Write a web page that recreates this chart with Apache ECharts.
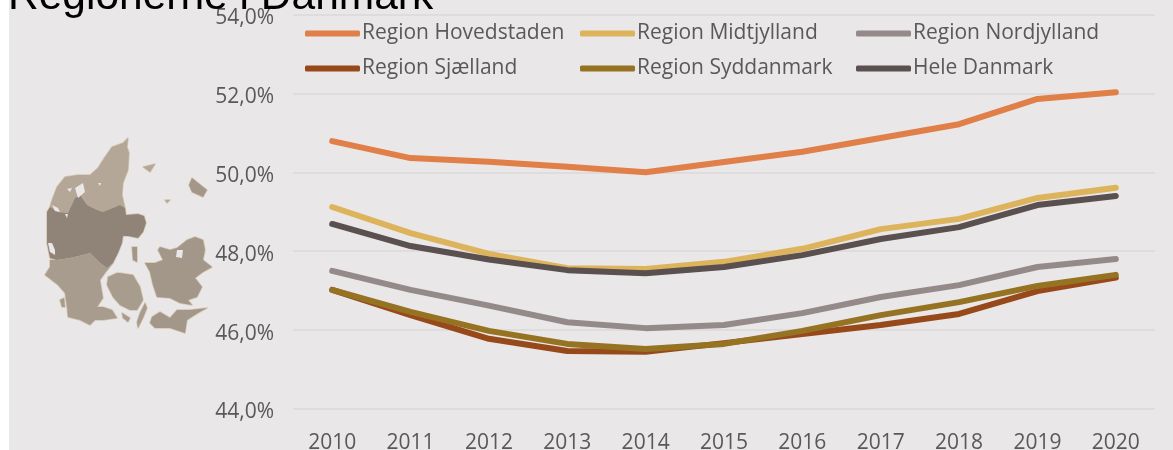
<!DOCTYPE html>
<html>
<head>
<meta charset="utf-8">
<style>
  html, body { margin: 0; padding: 0; background: #fff; }
  #target { width: 1173px; height: 450px; }
</style>
<script src="https://cdn.jsdelivr.net/npm/echarts@6/dist/echarts.min.js"></script>
</head>
<body>
<div id="target"></div>
<script>
const years = ['2010','2011','2012','2013','2014','2015','2016','2017','2018','2019','2020']
const hovedstaden = [50.79,50.36,50.27,50.14,50.0,50.26,50.52,50.87,51.22,51.86,52.03]
const midtjylland = [49.12,48.46,47.93,47.57,47.55,47.73,48.06,48.56,48.82,49.35,49.61]
const nordjylland = [47.5,47.02,46.62,46.2,46.05,46.13,46.43,46.84,47.14,47.6,47.8]
const sjaelland = [47.02,46.38,45.78,45.47,45.45,45.67,45.9,46.13,46.41,46.99,47.33]
const syddanmark = [47.02,46.46,45.98,45.65,45.52,45.65,45.98,46.38,46.71,47.12,47.4]
const heleDanmark = [48.69,48.13,47.79,47.52,47.44,47.6,47.9,48.31,48.61,49.17,49.4]

const textColor = '#595959'
const bgColor = '#E9E7E8'
const fontFamily = '"Open Sans", sans-serif'

//kort over Danmark (pynt, ikke data)
const landShapes = [
  {fill: '#B5A797', pts: [[128,138],[123,143],[112,147],[105,157],[98,168],[90,175],[78,175],[65,177],[57,187],[52,200],[50,207],[58,212],[68,213],[75,198],[80,195],[87,205],[97,210],[103,212],[120,205],[125,208],[122,195],[123,183],[128,170],[129,153],[127,147]]},
  {fill: '#8F8477', pts: [[50,207],[58,212],[68,213],[75,198],[80,195],[87,205],[97,210],[103,212],[120,205],[125,208],[126,215],[138,214],[144,216],[146,223],[143,232],[138,238],[128,236],[123,236],[122,243],[118,253],[113,263],[107,268],[100,263],[90,253],[83,255],[70,258],[57,260],[50,258],[47,243],[47,230],[47,212]]},
  {fill: '#A89C8E', pts: [[50,260],[57,260],[70,258],[83,255],[90,253],[100,263],[107,268],[113,263],[105,273],[100,280],[102,292],[103,298],[97,307],[103,307],[112,310],[117,318],[103,320],[95,320],[90,325],[80,320],[68,317],[67,307],[65,293],[58,285],[45,275],[50,267]]},
  {fill: '#A89C8E', pts: [[60,300],[64,298],[65,307],[62,307]]},
  {fill: '#A89C8E', pts: [[108,277],[117,273],[120,273],[133,275],[140,287],[143,300],[137,310],[130,310],[120,305],[113,297],[107,285]]},
  {fill: '#A89C8E', pts: [[145,303],[147,308],[143,318],[138,328],[137,322],[140,313]]},
  {fill: '#A89C8E', pts: [[122,313],[130,318],[128,322],[123,318]]},
  {fill: '#A3978A', pts: [[145,263],[155,263],[163,260],[158,250],[160,247],[170,250],[177,248],[187,240],[195,237],[203,240],[205,250],[203,260],[212,267],[203,272],[195,278],[202,287],[197,297],[188,300],[192,305],[180,303],[170,298],[157,297],[153,285],[150,272]]},
  {fill: '#A3978A', pts: [[152,317],[160,312],[170,318],[177,310],[190,310],[207,308],[198,313],[187,320],[185,333],[170,328],[155,328],[150,323]]},
  {fill: '#A3978A', pts: [[132,247],[137,247],[137,262],[133,260]]},
  {fill: '#A3978A', pts: [[192,178],[207,190],[203,197],[192,192],[189,185]]},
  {fill: '#B5A797', pts: [[143,167],[155,164],[150,172]]},
  {fill: '#B5A797', pts: [[165,200],[170,200],[167,203]]}
]
const waterShapes = [
  [[48,243],[52,243],[55,250],[55,255],[50,252]],
  [[52,205],[58,208],[60,212],[55,211]],
  [[75,188],[83,183],[85,192],[78,198]],
  [[67,189],[72,188],[70,192]],
  [[98,183],[101,183],[100,186]],
  [[65,214],[68,214],[67,218]],
  [[177,250],[183,250],[182,258],[176,257]]
]
const mapParts = [
  ...landShapes.map(s => ({type: 'polygon', shape: {points: s.pts}, style: {fill: '#D5C6B2', stroke: '#D5C6B2', lineWidth: 1.5, lineJoin: 'round'}})),
  ...landShapes.map(s => ({type: 'polygon', shape: {points: s.pts}, style: {fill: s.fill}})),
  ...waterShapes.map(pts => ({type: 'polygon', shape: {points: pts}, style: {fill: bgColor}}))
]

const legendBase = {
  orient: 'vertical',
  top: 23,
  icon: 'roundRect',
  itemWidth: 55,
  itemHeight: 6,
  itemGap: 14,
  padding: 0,
  textStyle: {color: textColor, fontFamily, fontSize: 21, padding: [0, 0, 0, -3], lineHeight: 21}
}

const line = (name, data, color) => ({
  name,
  type: 'line',
  data,
  color,
  symbol: 'none',
  lineStyle: {width: 6, color, cap: 'round', join: 'round'},
  itemStyle: {color}
})

const mChart = echarts.init(document.getElementById('target'), null, {renderer: 'canvas'})
mChart.setOption({
  animation: false,
  backgroundColor: '#fff',
  graphic: [
    {type: 'rect', z: -10, shape: {x: 9, y: 0, width: 1164, height: 450}, style: {fill: bgColor}},
    {type: 'group', children: mapParts},
    {type: 'text', z: 20, x: 8, y: -24, style: {text: 'Regionerne i Danmark', fill: '#000', font: '42.5px "Liberation Sans", Arial, sans-serif'}}
  ],
  grid: {top: 14.5, bottom: 41, left: 293, right: 18, outerBoundsMode: 'none'},
  legend: [
    Object.assign({}, legendBase, {left: 305, data: ['Region Hovedstaden', 'Region Sjælland']}),
    Object.assign({}, legendBase, {left: 580, data: ['Region Midtjylland', 'Region Syddanmark']}),
    Object.assign({}, legendBase, {left: 856, data: ['Region Nordjylland', 'Hele Danmark']})
  ],
  xAxis: {
    type: 'category',
    data: years,
    axisLine: {show: false},
    axisTick: {show: false},
    axisLabel: {color: textColor, fontFamily, fontSize: 21, margin: 24, interval: 0}
  },
  yAxis: {
    type: 'value',
    min: 44,
    max: 54,
    interval: 2,
    axisLine: {show: false},
    axisTick: {show: false},
    splitLine: {lineStyle: {color: '#DEDCDD', width: 2}},
    axisLabel: {color: textColor, fontFamily, fontSize: 21, margin: 19, verticalAlign: 'top', lineHeight: 7, formatter: v => v.toFixed(1).replace('.', ',') + '%'}
  },
  series: [
    line('Region Hovedstaden', hovedstaden, '#E07F47'),
    line('Region Midtjylland', midtjylland, '#DDB45C'),
    line('Region Nordjylland', nordjylland, '#948A8A'),
    line('Region Sjælland', sjaelland, '#97491A'),
    line('Region Syddanmark', syddanmark, '#967223'),
    line('Hele Danmark', heleDanmark, '#5A5050')
  ]
})
</script>
</body>
</html>
